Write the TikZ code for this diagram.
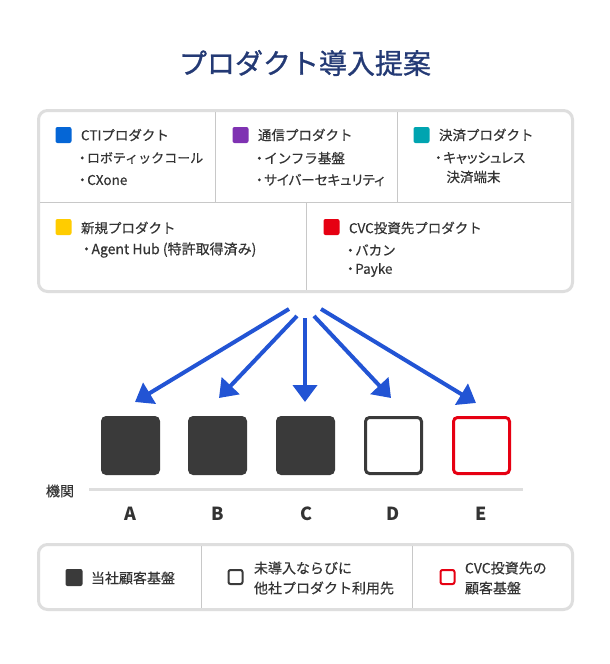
\documentclass[tikz,border=0pt]{standalone}
\usepackage{fontspec}
\setmainfont{Noto Sans CJK JP}[UprightFeatures={FakeBold=0.35}]
\newfontfamily\paltfont{Noto Sans CJK JP}[RawFeature=+palt, UprightFeatures={FakeBold=0.35}]
\newfontfamily\titlefont{Noto Sans CJK JP}[UprightFeatures={FakeBold=1.0}]
\newcommand\bt{{\paltfont ・}\kern1.5pt}
\usetikzlibrary{arrows.meta}
\definecolor{txt}{RGB}{51,51,51}
\definecolor{framec}{RGB}{222,222,222}
\definecolor{divc}{RGB}{200,200,200}
\definecolor{navy}{RGB}{36,58,117}
\definecolor{arrblue}{RGB}{34,84,212}
\definecolor{ctiblue}{RGB}{5,102,214}
\definecolor{purp}{RGB}{127,50,178}
\definecolor{tealc}{RGB}{0,164,176}
\definecolor{yel}{RGB}{255,204,0}
\definecolor{redc}{RGB}{230,0,18}
\definecolor{darkc}{RGB}{58,58,58}
\tikzset{
  lbl/.style={anchor=west, font=\fontsize{13.5}{16}\selectfont, text=txt},
  bul/.style={anchor=west, font=\fontsize{13.5}{16}\selectfont, text=txt},
  chip/.style={minimum size=16pt, rounded corners=2pt},
  frame/.style={draw=framec, line width=3pt, rounded corners=9pt},
  divider/.style={draw=divc, line width=0.8pt},
  inst/.style={minimum size=59pt, rounded corners=5pt},
  arr/.style={draw=arrblue, line width=4pt, -{Triangle[length=17pt,width=24pt]}},
  letter/.style={font=\fontsize{18}{20}\selectfont\bfseries, text=txt},
}
\begin{document}
\begin{tikzpicture}[x=1pt,y=-1pt, every node/.style={inner sep=0pt, outer sep=0pt}]
\useasboundingbox[fill=white] (0,0) rectangle (610,664);

% title
\node[font=\fontsize{28}{32}\selectfont\titlefont, text=navy] (title) at (305,63) {プロダクト導入提案};

% top frame
\node[frame, minimum width=534pt, minimum height=181pt] (prod) at (305.5,201) {};
\draw[divider] (40,202) -- (571,202);
\draw[divider] (215,112) -- (215,202);
\draw[divider] (397,112) -- (397,202);
\draw[divider] (306,202) -- (306,290);

% CTI
\node[chip, fill=ctiblue] (c1) at (63.5,135) {};
\node[lbl] (t1) at (81,135) {CTIプロダクト};
\node[bul, font=\fontsize{13}{16}\selectfont] (t1a) at (79,158) {\bt ロボティックコール};
\node[bul] (t1b) at (79,180) {\bt CXone};
% 通信
\node[chip, fill=purp] (c2) at (240.5,135) {};
\node[lbl] (t2) at (258,135) {通信プロダクト};
\node[bul] (t2a) at (256,158) {\bt インフラ基盤};
\node[bul] (t2b) at (256,180) {\bt {\paltfont サイバーセキュリティ}};
% 決済
\node[chip, fill=tealc] (c3) at (421.5,135) {};
\node[lbl] (t3) at (439,135) {決済プロダクト};
\node[bul] (t3a) at (435,158) {\bt {\paltfont キャッシュレス}};
\node[bul] (t3b) at (446.5,177) {決済端末};
% 新規
\node[chip, fill=yel] (c4) at (63.5,227) {};
\node[lbl] (t4) at (81,228) {新規プロダクト};
\node[bul, font=\fontsize{14}{16}\selectfont] (t4a) at (83,250) {\bt Agent Hub (特許取得済み)};
% CVC
\node[chip, fill=redc] (c5) at (331.5,227) {};
\node[lbl] (t5) at (349,228) {CVC投資先プロダクト};
\node[bul] (t5a) at (347,250) {\bt バカン};
\node[bul] (t5b) at (347,270) {\bt Payke};

% arrows
\coordinate (sA) at (289,309); \coordinate (eA) at (135,402);
\coordinate (sB) at (297,316); \coordinate (eB) at (219,398);
\coordinate (sC) at (305,318); \coordinate (eC) at (305,402);
\coordinate (sD) at (314,316); \coordinate (eD) at (391,398);
\coordinate (sE) at (321,309); \coordinate (eE) at (476,403);
\draw[arr] (sA) -- (eA);
\draw[arr] (sB) -- (eB);
\draw[arr] (sC) -- (eC);
\draw[arr] (sD) -- (eD);
\draw[arr] (sE) -- (eE);

% institutions
\node[inst, fill=darkc] (A) at (130.5,445.5) {};
\node[inst, fill=darkc] (B) at (217.5,445.5) {};
\node[inst, fill=darkc] (C) at (305.5,445.5) {};
\node[inst, draw=darkc, line width=3pt, minimum size=56pt, rounded corners=4pt] (D) at (393.5,445.5) {};
\node[inst, draw=redc, line width=3pt, minimum size=56pt, rounded corners=4pt] (E) at (481.5,445.5) {};

\draw[draw=framec, line width=3pt] (89,489) -- (523,489);
\node[font=\fontsize{14}{16}\selectfont, text=txt] (kikan) at (60,491) {機関};
\node[letter] (lA) at (130,514) {A};
\node[letter] (lB) at (218,514) {B};
\node[letter] (lC) at (306,514) {C};
\node[letter] (lD) at (393,514) {D};
\node[letter] (lE) at (481,514) {E};

% legend
\node[frame, minimum width=534pt, minimum height=65pt] (leg) at (305.5,577) {};
\draw[divider] (201,546) -- (201,608);
\draw[divider] (412,546) -- (412,608);
\node[minimum size=17pt, fill=darkc, rounded corners=2pt] (k1) at (74,577.5) {};
\node[lbl, font=\fontsize{14}{16}\selectfont] (k1t) at (91,578) {当社顧客基盤};
\node[minimum size=14pt, draw=darkc, line width=2pt, rounded corners=2pt] (k2) at (235.5,577) {};
\node[lbl, font=\fontsize{14}{16}\selectfont] (k2t) at (254,568) {未導入ならびに};
\node[lbl, font=\fontsize{14}{16}\selectfont] (k2u) at (254,588) {他社プロダクト利用先};
\node[minimum size=14pt, draw=redc, line width=2pt, rounded corners=2pt] (k3) at (447.5,577) {};
\node[lbl, font=\fontsize{14}{16}\selectfont] (k3t) at (465,568) {CVC投資先の};
\node[lbl, font=\fontsize{14}{16}\selectfont] (k3u) at (465,588) {顧客基盤};
\end{tikzpicture}
\end{document}
